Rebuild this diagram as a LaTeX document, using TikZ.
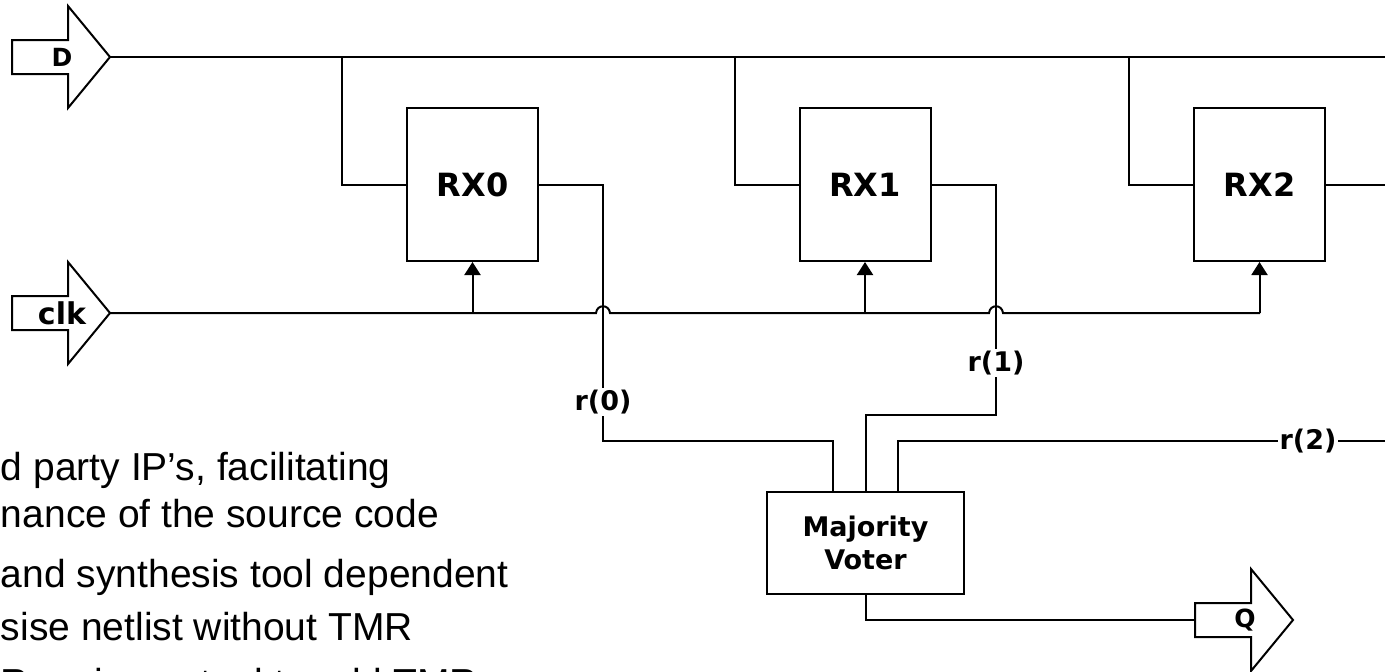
\documentclass[tikz,border=0pt]{standalone}
\usepackage{fontspec}
\setmainfont{Liberation Sans}
\newfontfamily\lblfont{DejaVu Sans}
\usetikzlibrary{arrows.meta}

% port arrow: #1 name, (#2,#3) tip, #4 label, #5 label size
\newcommand\portarrow[5]{%
  \draw[port] (#2-98,#3-17) -- (#2-42,#3-17) -- (#2-42,#3-51) -- (#2,#3)
    -- (#2-42,#3+51) -- (#2-42,#3+17) -- (#2-98,#3+17) -- cycle;
  \coordinate (#1) at (#2,#3);
  \coordinate (#1tail) at (#2-98,#3);
  \node[font=\lblfont\bfseries\fontsize{#5}{#5}\selectfont, inner sep=0]
    (#1lbl) at (#2-48,#3) {#4};}

\begin{document}
\begin{tikzpicture}[x=1pt, y=-1pt, line width=2pt, line join=miter,
  port/.style={draw, fill=white},
  reg/.style={draw, fill=white, minimum width=131pt, minimum height=153pt, inner sep=0,
    font=\lblfont\bfseries\fontsize{32}{36}\selectfont},
  voterbox/.style={draw, fill=white, minimum width=197pt, minimum height=102pt, inner sep=0,
    align=center, font=\lblfont\bfseries\fontsize{27}{33}\selectfont},
  sig/.style={fill=white, inner sep=2pt, font=\lblfont\bfseries\fontsize{27}{30}\selectfont},
  clktap/.style={-{Triangle[length=13pt,width=16pt]}},
  note/.style={anchor=base west, inner sep=0, font=\fontsize{39}{46}\selectfont}]
\useasboundingbox (0,0) rectangle (1385,672);
\clip (0,0) rectangle (1385,672);

% text behind the schematic
\node[note] (t1) at (0,480) {d party IP’s, facilitating};
\node[note] (t2) at (0,527) {nance of the source code};
\node[note] (t3) at (0,587) {and synthesis tool dependent};
\node[note] (t4) at (0,640) {sise netlist without TMR};
\node[note] (t5) at (0,696) {Requires a tool to add TMR};

% registers and voter
\node[reg] (rx0) at (472.5,184.5) {RX0};
\node[reg] (rx1) at (865,184.5) {RX1};
\node[reg] (rx2) at (1259.5,184.5) {RX2};
\node[voterbox] (voter) at (865.5,543) {Majority\\Voter};

% input / output ports
\portarrow{din}{110}{57}{D}{25}
\portarrow{clk}{110}{313}{clk}{30}
\portarrow{qout}{1293}{620}{Q}{25}

% data bus
\coordinate (dend) at (1385,57);
\draw (din) -- (dend);
\foreach \r/\x in {rx0/342, rx1/735, rx2/1129}
  \draw (\x,57) |- (\r.west);

% clock line with jumps over r(0) and r(1)
\draw (clk) -- (596,313) .. controls (597,304) and (609,304) .. (610,313)
  -- (989,313) .. controls (990,304) and (1002,304) .. (1003,313) -- (1260,313);
\foreach \r in {rx0, rx1, rx2}
  \draw[clktap] (\r.south |- 0,313) -- (\r.south);

% register outputs
\coordinate (r2end) at (1385,184.5);
\draw (rx2.east) -- (r2end);

\coordinate (v0) at ([xshift=-32.5pt]voter.north);
\coordinate (v1) at (voter.north);
\coordinate (v2) at ([xshift=32.5pt]voter.north);

\draw (rx0.east) -| (603,441) -| (v0);
\node[sig] (r0lbl) at (603,402) {r(0)};

\draw (rx1.east) -| (996,415) -| (v1);
\node[sig] (r1lbl) at (996,363) {r(1)};

\coordinate (r2in) at (1385,441);
\draw (r2in) -| (v2);
\node[sig] (r2lbl) at (1308,441) {r(2)};

% voter output
\draw (voter.south) |- (qouttail);
\end{tikzpicture}
\end{document}
